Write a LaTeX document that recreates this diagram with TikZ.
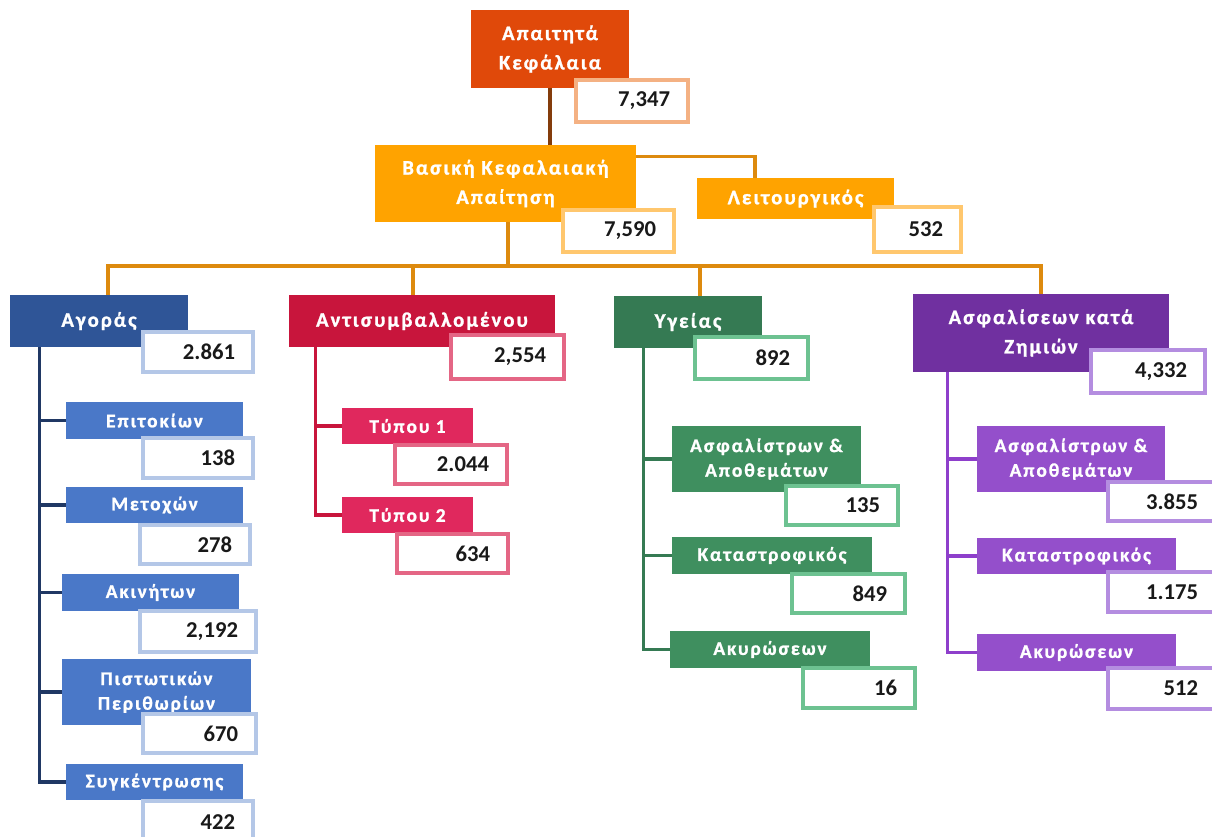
\documentclass[tikz,border=0pt]{standalone}
\usepackage{fontspec}
\setmainfont{Carlito}
\newfontfamily\labfont{Carlito}[LetterSpace=10,BoldFeatures={FakeBold=1.2}]
\newfontfamily\numfont{Carlito}
\definecolor{cTop}{HTML}{E0490A}
\definecolor{cTopV}{HTML}{F4B183}
\definecolor{cBas}{HTML}{FFA300}
\definecolor{cBasV}{HTML}{FFC76E}
\definecolor{cBrown}{HTML}{843C0C}
\definecolor{cOrL}{HTML}{DD8A0E}
\definecolor{cAgo}{HTML}{2F5597}
\definecolor{cAgoC}{HTML}{4A78C8}
\definecolor{cAgoV}{HTML}{B4C7E7}
\definecolor{cAgoL}{HTML}{203864}
\definecolor{cAnt}{HTML}{C8153C}
\definecolor{cAntC}{HTML}{E0285D}
\definecolor{cAntV}{HTML}{E46685}
\definecolor{cYgi}{HTML}{357A53}
\definecolor{cYgiC}{HTML}{3F8F5F}
\definecolor{cYgiV}{HTML}{6DC291}
\definecolor{cAsf}{HTML}{7030A0}
\definecolor{cAsfC}{HTML}{944FCB}
\definecolor{cAsfV}{HTML}{B48DE0}
\definecolor{cAsfL}{HTML}{8E3FCB}
\tikzset{
  lab/.style={fill=#1, draw=none, text=white, align=center, inner sep=0pt},
  big/.style={font=\labfont\bfseries\fontsize{15.5}{22}\selectfont},
  small/.style={font=\labfont\bfseries\fontsize{14.5}{18.5}\selectfont},
  val/.style={fill=white, draw=#1, line width=2.5pt, text=black!90, align=right, inner sep=0pt,
    font=\numfont\bfseries\fontsize{17}{20}\selectfont},
  conn/.style={draw=#1, line width=2.6pt},
}
\newcommand\lbox[7]{%
  \pgfmathsetmacro\bw{(#5-#3)*0.75}\pgfmathsetmacro\bh{(#6-#4)*0.75}%
  \node[#2, minimum width=\bw pt, minimum height=\bh pt] (#1) at ({(#3+#5)/2},{(#4+#6)/2}) {#7};}
\newcommand\valbox[7]{%
  \pgfmathsetmacro\bw{(#5-#3)*0.75}\pgfmathsetmacro\bh{(#6-#4)*0.75}\pgfmathsetmacro\tw{(#5-#3-36)*0.75}%
  \node[val=#2, minimum width=\bw pt, minimum height=\bh pt, text width=\tw pt] (#1) at ({(#3+#5)/2},{(#4+#6)/2+1}) {#7};}
\begin{document}
\begin{tikzpicture}[x=0.75pt,y=-0.75pt]
\useasboundingbox (0,0) rectangle (1212,836);
% label boxes
\lbox{top}{lab=cTop,big}{471}{10}{629}{88}{Απαιτητά\\Κεφάλαια}
\lbox{basic}{lab=cBas,big}{375}{145}{636}{222}{Βασική Κεφαλαιακή\\Απαίτηση}
\lbox{leit}{lab=cBas,big}{697}{178}{894}{219}{Λειτουργικός}
\lbox{ago}{lab=cAgo,big}{10}{295}{188}{347}{Αγοράς}
\lbox{anti}{lab=cAnt,big}{289}{295}{555}{347}{Αντισυμβαλλομένου}
\lbox{ygi}{lab=cYgi,big}{614}{296}{762}{348}{Υγείας}
\lbox{asf}{lab=cAsf,big}{913}{294}{1169}{372}{Ασφαλίσεων κατά\\Ζημιών}
\lbox{epit}{lab=cAgoC,small}{66}{402}{243}{439}{Επιτοκίων}
\lbox{meto}{lab=cAgoC,small}{66}{487}{243}{523}{Μετοχών}
\lbox{akin}{lab=cAgoC,small}{62}{574}{239}{611}{Ακινήτων}
\lbox{pist}{lab=cAgoC,small}{62}{659}{251}{725}{Πιστωτικών\\Περιθωρίων}
\lbox{synk}{lab=cAgoC,small}{66}{764}{243}{800}{Συγκέντρωσης}
\lbox{typ1}{lab=cAntC,small}{342}{408}{473}{444}{Τύπου 1}
\lbox{typ2}{lab=cAntC,small}{342}{497}{473}{533}{Τύπου 2}
\lbox{yasf}{lab=cYgiC,small}{672}{426}{861}{492}{Ασφαλίστρων \&\\Αποθεμάτων}
\lbox{ykat}{lab=cYgiC,small}{672}{537}{872}{574}{Καταστροφικός}
\lbox{yaky}{lab=cYgiC,small}{670}{631}{870}{668}{Ακυρώσεων}
\lbox{aasf}{lab=cAsfC,small}{977}{426}{1165}{492}{Ασφαλίστρων \&\\Αποθεμάτων}
\lbox{akat}{lab=cAsfC,small}{977}{538}{1176}{574}{Καταστροφικός}
\lbox{aaky}{lab=cAsfC,small}{977}{634}{1176}{671}{Ακυρώσεων}
% connectors
\draw[conn=cBrown] (top.south) -- (top.south |- basic.north);
\draw[conn=cOrL] ([yshift=-9pt]basic.north east) -| ([xshift=-30.4pt]leit.north);
\coordinate (bus) at (508,266);
\draw[conn=cOrL] (basic.south -| bus) -- (bus);
\draw[conn=cOrL] (bus) -| ([xshift=6.75pt]ago.north);
\draw[conn=cOrL] (bus) -| ([xshift=-6.75pt]anti.north);
\draw[conn=cOrL] (bus) -| ([xshift=9pt]ygi.north);
\draw[conn=cOrL] (bus) -| (asf.north);
\foreach \c in {epit,meto,akin,pist,synk}
  \draw[conn=cAgoL] ([xshift=22.5pt]ago.south west) |- (\c.west);
\foreach \c in {typ1,typ2}
  \draw[conn=cAnt] ([xshift=20.25pt]anti.south west) |- (\c.west);
\foreach \c in {yasf,ykat,yaky}
  \draw[conn=cYgi] ([xshift=22.5pt]ygi.south west) |- (\c.west);
\foreach \c in {aasf,akat,aaky}
  \draw[conn=cAsfL] ([xshift=26.25pt]asf.south west) |- (\c.west);
% value boxes
\valbox{topv}{cTopV}{576}{79}{688}{121}{7,347}
\valbox{basicv}{cBasV}{563}{209}{674}{251}{7,590}
\valbox{leitv}{cBasV}{874}{206}{961}{251}{532}
\valbox{agov}{cAgoV}{143}{331}{253}{371}{2.861}
\valbox{epitv}{cAgoV}{143}{437}{253}{477}{138}
\valbox{metov}{cAgoV}{140}{524}{250}{563}{278}
\valbox{akinv}{cAgoV}{140}{610}{256}{651}{2,192}
\valbox{pistv}{cAgoV}{143}{713}{256}{752}{670}
\valbox{synkv}{cAgoV}{143}{800}{253}{842}{422}
\valbox{antiv}{cAntV}{451}{334}{564}{378}{2,554}
\valbox{typ1v}{cAntV}{395}{444}{507}{483}{2.044}
\valbox{typ2v}{cAntV}{397}{533}{508}{572}{634}
\valbox{ygiv}{cYgiV}{695}{336}{808}{378}{892}
\valbox{yasfv}{cYgiV}{786}{485}{898}{524}{135}
\valbox{ykatv}{cYgiV}{792}{573}{905}{612}{849}
\valbox{yakyv}{cYgiV}{803}{667}{915}{707}{16}
\valbox{asfv}{cAsfV}{1091}{349}{1205}{392}{4,332}
\valbox{aasfv}{cAsfV}{1108}{481}{1216}{520}{3.855}
\valbox{akatv}{cAsfV}{1108}{571}{1216}{611}{1.175}
\valbox{aakyv}{cAsfV}{1108}{667}{1216}{708}{512}
\end{tikzpicture}
\end{document}
